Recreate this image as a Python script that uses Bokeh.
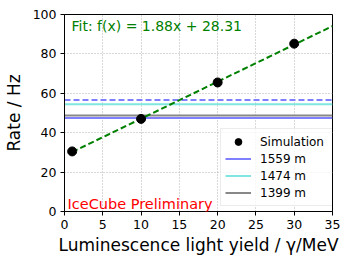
from bokeh.plotting import figure
from bokeh.models import Range1d, FixedTicker, Label, Legend, LegendItem
from bokeh.embed import file_html
from bokeh.resources import INLINE

# Data
sim_x = [1, 10, 20, 30]
sim_y = [30.5, 47.0, 65.5, 85.2]
fit_x = [1, 35]
fit_y = [30.19, 94.11]
depth_labels = ["1559 m", "1474 m", "1399 m"]
depth_rates = [47.5, 54.4, 48.7]
depth_colors = ["#8080ff", "#80e6df", "#888888"]
dashed_rate = 56.6
x_ticks = [0, 5, 10, 15, 20, 25, 30, 35]
y_ticks = [0, 20, 40, 60, 80, 100]

FONT = "DejaVu Sans"

p = figure(width=348, height=262, output_backend="svg", toolbar_location=None,
           x_range=Range1d(0, 35), y_range=Range1d(0, 100),
           min_border_left=61, min_border_right=16, min_border_top=14, min_border_bottom=51)

p.outline_line_color = "black"
p.outline_line_width = 1
p.outline_line_alpha = 1

for ax in (p.xaxis[0], p.yaxis[0]):
    ax.major_label_text_font = FONT
    ax.major_label_text_font_size = "12.5px"
    ax.major_label_text_color = "black"
    ax.axis_label_text_font = FONT
    ax.axis_label_text_font_size = "17px"
    ax.axis_label_text_font_style = "normal"
    ax.axis_label_text_color = "black"
    ax.major_tick_out = 4
    ax.major_tick_in = 0
    ax.minor_tick_out = 0
    ax.minor_tick_in = 0
    ax.axis_line_color = "black"
    ax.major_tick_line_color = "black"

p.xaxis.ticker = FixedTicker(ticks=x_ticks)
p.yaxis.ticker = FixedTicker(ticks=y_ticks)
p.xaxis.axis_label = "Luminescence light yield / γ/MeV"
p.yaxis.axis_label = "Rate / Hz"
p.xaxis.major_label_standoff = 4
p.yaxis.major_label_standoff = 4
p.xaxis.axis_label_standoff = 3
p.yaxis.axis_label_standoff = 6

for g in (p.xgrid[0], p.ygrid[0]):
    g.grid_line_color = "#b0b0b0"
    g.grid_line_dash = "1 2"
    g.grid_line_width = 1

r_dash = p.line([0, 35], [dashed_rate, dashed_rate], line_color="#8080ff",
                line_width=2, line_dash="6 3")
line_renderers = []
for lab, rate, col in zip(depth_labels, depth_rates, depth_colors):
    r = p.line([0, 35], [rate, rate], line_color=col, line_width=2)
    line_renderers.append((lab, r))

p.line(fit_x, fit_y, line_color="green", line_width=2, line_dash="6 3")
r_sim = p.scatter(sim_x, sim_y, size=9, color="black")

legend = Legend(items=[LegendItem(label="Simulation", renderers=[r_sim])] +
                [LegendItem(label=lab, renderers=[r]) for lab, r in line_renderers],
                location=(156, 5))
legend.label_text_font = FONT
legend.label_text_font_size = "12px"
legend.label_text_color = "black"
legend.glyph_width = 26
legend.glyph_height = 17
legend.label_height = 17
legend.label_width = 70
legend.label_standoff = 9
legend.spacing = 0
legend.padding = 4
legend.margin = 0
legend.border_line_color = "#d9d9d9"
legend.border_line_width = 1
legend.background_fill_color = "white"
legend.background_fill_alpha = 0.8
p.add_layout(legend)

p.add_layout(Label(x=7, y=185.5, x_units="screen", y_units="screen",
                   text="Fit: f(x) = 1.88x + 28.31", text_color="green",
                   text_font=FONT, text_font_size="14px", text_baseline="alphabetic"))
p.add_layout(Label(x=3, y=8, x_units="screen", y_units="screen",
                   text="IceCube Preliminary", text_color="red",
                   text_font=FONT, text_font_size="14.5px", text_baseline="alphabetic"))

open("out.html", "w").write(file_html(p, INLINE))
